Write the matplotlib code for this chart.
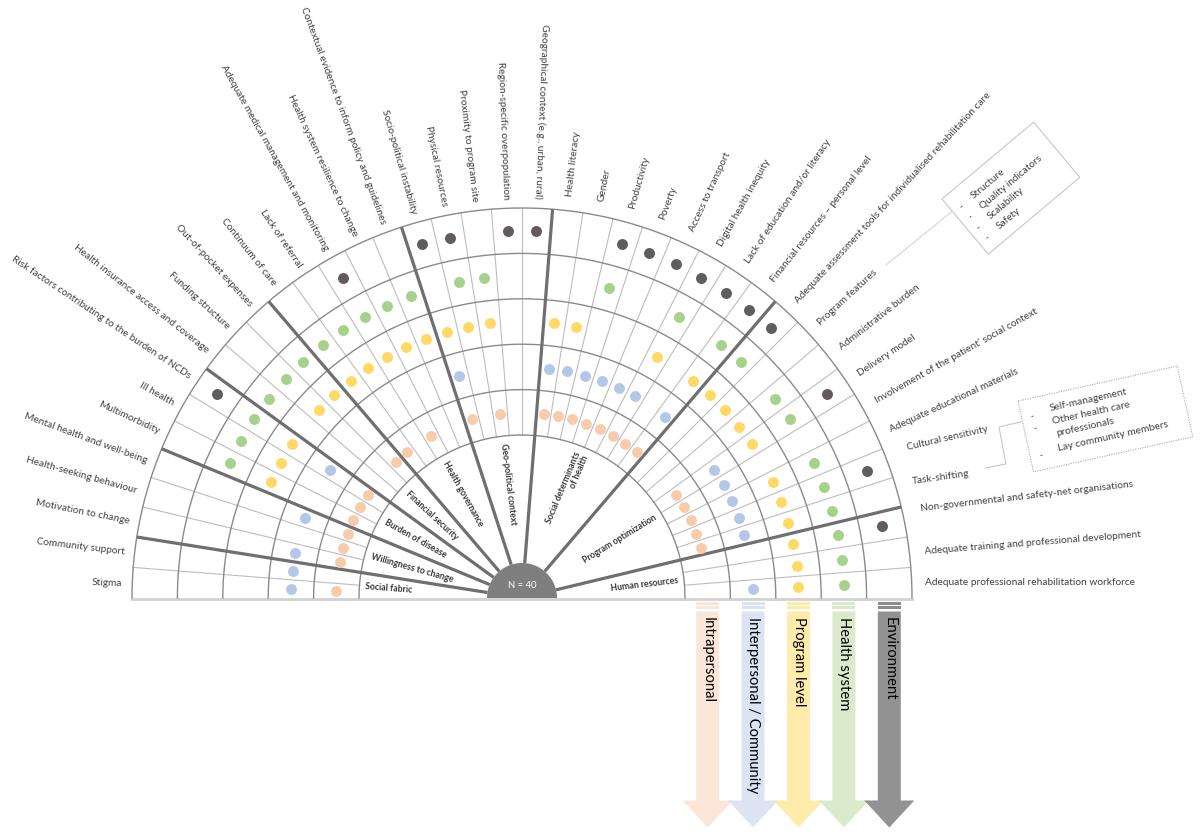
import numpy as np
import matplotlib
matplotlib.use("Agg")
import matplotlib.pyplot as plt
from matplotlib.patches import Polygon

# ---------------- data ----------------
factors = [
    "Stigma", "Community support",
    "Motivation to change", "Health-seeking behaviour", "Mental health and well-being",
    "Multimorbidity", "Ill health", "Risk factors contributing to the burden of NCDs",
    "Health insurance access and coverage", "Funding structure", "Out-of-pocket expenses",
    "Continuum of care", "Lack of referral", "Adequate medical management and monitoring",
    "Health system resilience to change", "Contextual evidence to inform policy and guidelines",
    "Socio-political instability", "Physical resources", "Proximity to program site",
    "Region-specific overpopulation", "Geographical context (e.g., urban, rural)",
    "Health literacy", "Gender", "Productivity", "Poverty", "Access to transport",
    "Digital health inequity", "Lack of education and/or literacy",
    "Financial resources \u2013 personal level",
    "Adequate assessment tools for individualised rehabilitation care", "Program features",
    "Administrative burden", "Delivery model", "Involvement of the patient\u2019 social context",
    "Adequate educational materials", "Cultural sensitivity", "Task-shifting",
    "Non-governmental and safety-net organisations",
    "Adequate training and professional development",
    "Adequate professional rehabilitation workforce",
]
categories = ["Social fabric", "Willingness to change", "Burden of disease",
              "Financial security", "Health governance", "Geo-political context",
              "Social determinants\nof health", "Program optimization", "Human resources"]
category_sizes = [2, 3, 3, 3, 5, 5, 8, 8, 3]
levels = ["Intrapersonal", "Interpersonal / Community", "Program level",
          "Health system", "Environment"]

# 1 = factor reported at that level (grouped by category)
intrapersonal = [1, 0,  1, 1, 1,  1, 1, 1,  0, 0, 1,  1, 0, 1, 0, 0,  1, 0, 1, 0, 0,
                 1, 1, 1, 1, 1, 1, 1, 1,  0, 0, 0, 1, 1, 1, 1, 1,  0, 0, 0]
interpersonal = [1, 1,  1, 0, 1,  0, 0, 1,  0, 0, 0,  0, 0, 0, 0, 0,  1, 0, 0, 0, 0,
                 1, 1, 1, 1, 1, 1, 0, 1,  0, 0, 0, 1, 1, 1, 1, 1,  0, 0, 1]
program_level = [0, 0,  0, 0, 0,  1, 1, 1,  0, 1, 1,  1, 1, 1, 1, 1,  1, 1, 1, 0, 0,
                 1, 1, 0, 0, 0, 1, 0, 1,  1, 1, 1, 1, 0, 1, 1, 1,  1, 1, 1]
health_system = [0, 0,  0, 0, 0,  1, 1, 1,  1, 1, 1,  1, 1, 1, 1, 1,  0, 1, 1, 0, 0,
                 0, 0, 1, 0, 0, 1, 0, 1,  1, 0, 1, 1, 0, 1, 1, 1,  1, 1, 1]
environment =   [0, 0,  0, 0, 0,  0, 0, 1,  0, 0, 0,  0, 0, 1, 0, 0,  1, 1, 0, 1, 1,
                 0, 0, 1, 1, 1, 1, 1, 1,  1, 0, 0, 1, 0, 0, 1, 0,  1, 0, 0]
n_studies = 40

assessment_items = ["Structure", "Quality indicators", "Scalability", "Safety"]
task_items = ["Self-management", "Other health care\nprofessionals", "Lay community members"]

# ---------------- style ----------------
dot_colors = ["#F8CBAD", "#B4C7E7", "#FFD966", "#A9D18E", "#625B5B"]
arrow_colors = ["#FBE5D6", "#DAE3F3", "#FFEBA8", "#D7EAC9", "#8C8C8C"]
TXT = "#404040"
FONT = ["Lato", "DejaVu Sans"]
plt.rcParams["font.family"] = FONT

W, H = 1200, 837
fig = plt.figure(figsize=(W / 100, H / 100), dpi=100)
ax = fig.add_axes([0, 0, 1, 1])
ax.set_xlim(0, W)
ax.set_ylim(H, 0)
ax.axis("off")

CX, CY = 522, 599
R_HUB, R_IN, R_OUT = 35, 163, 390
n = len(factors)
step = 180.0 / n
ring_edges = np.linspace(R_IN, R_OUT, len(levels) + 1)
ring_mid = (ring_edges[:-1] + ring_edges[1:]) / 2


def pol(r, deg):
    a = np.radians(deg)
    return CX + r * np.cos(a), CY - r * np.sin(a)


t = np.linspace(0, 180, 721)
# rings
for r in ring_edges:
    ax.plot(*pol(r, t), color="#8A8A8A", lw=1.0, zorder=2)

# radial lines
group_bounds = set(np.cumsum(category_sizes)[:-1].tolist())
for j in range(1, n):
    a = 180 - j * step
    if j in group_bounds:
        x, y = pol(np.array([R_HUB, R_OUT]), a)
        ax.plot(x, y, color="#6F6F6F", lw=2.3, zorder=3, solid_capstyle="butt")
    else:
        x, y = pol(np.array([R_IN, R_OUT]), a)
        ax.plot(x, y, color="#BDBDBD", lw=0.8, zorder=1)

# baseline
ax.plot([CX - R_OUT, CX + R_OUT], [CY + 1, CY + 1], color="#D2D2D2", lw=2.0, zorder=1)

# hub
hx, hy = pol(R_HUB, t)
ax.fill(hx, hy, color="#7F7F7F", zorder=4, lw=0)
ax.text(CX, CY - 13, f"N = {n_studies}", color="white", fontsize=6.8,
        ha="center", va="center", zorder=5)

# dots
members = [intrapersonal, interpersonal, program_level, health_system, environment]
for li, mem in enumerate(members):
    ks = np.nonzero(np.array(mem))[0]
    ang = 180 - step * (ks + 0.5)
    x, y = pol(ring_mid[li], ang)
    ax.scatter(x, y, s=62, color=dot_colors[li], linewidths=0, zorder=6)

# factor labels
label_tweaks = {  # index: (angle, radius, rotation)
    35: (21.5, 414, 13), 36: (16.8, 408, 8), 37: (12.8, 409, 6.5),
    38: (6.8, 405, 4.5), 39: (2.3, 403, 0),
}
for k, name in enumerate(factors):
    a = 180 - step * (k + 0.5)
    if a > 85.5:
        r, rot, ha = 400, a - 180, "right"
    else:
        r, rot, ha = 405, a, "left"
    if k in label_tweaks:
        a, r, rot = label_tweaks[k]
    x, y = pol(r, a)
    ax.text(x, y, name, rotation=rot, rotation_mode="anchor", ha=ha, va="center",
            fontsize=7.3, color=TXT, zorder=7)

# category labels
start = 0
for name, size in zip(categories, category_sizes):
    a = 180 - step * (start + size / 2)
    start += size
    x, y = pol(157, a)
    kw = dict(rotation_mode="anchor", va="center", fontsize=6.3, fontweight="bold",
              color="#383838", zorder=7, linespacing=1.0)
    if a > 90:
        ax.text(x, y, name, rotation=a - 180, ha="left", **kw)
    else:
        ax.text(x, y, name, rotation=a, ha="right", multialignment="right", **kw)

# legend arrows
for i, (lev, col) in enumerate(zip(levels, arrow_colors)):
    xc = CX + ring_mid[i]
    hw, HW = 11.5, 25
    y0, y1, y2 = 612.5, 801.5, 828.5
    ax.add_patch(Polygon([(xc - hw, y0), (xc + hw, y0), (xc + hw, y1), (xc + HW, y1),
                          (xc, y2), (xc - HW, y1), (xc - hw, y1)], closed=True,
                         facecolor=col, edgecolor="none", zorder=3, alpha=0.95))
    for (ya, yb) in [(603.0, 605.6), (607.2, 610.2)]:
        ax.add_patch(Polygon([(xc - hw, ya), (xc + hw, ya), (xc + hw, yb), (xc - hw, yb)],
                             closed=True, facecolor=col, edgecolor="none", zorder=3))
    ax.text(xc, 617, lev, rotation=-90, ha="center", va="top", fontsize=10.6,
            color="black", zorder=4)


# annotation boxes
def rbox(top_left, length, width, deg, **kw):
    u = np.array([np.cos(np.radians(deg)), -np.sin(np.radians(deg))])
    v = np.array([np.sin(np.radians(deg)), np.cos(np.radians(deg))])
    p = np.array(top_left, dtype=float)
    pts = [p, p + u * length, p + u * length + v * width, p + v * width]
    ax.add_patch(Polygon(pts, closed=True, facecolor="white", zorder=2, **kw))
    return p, u, v


p1, u1, v1 = rbox((942, 200), 119.5, 72, 40, edgecolor="#C8C8C8", lw=0.8)
for i, item in enumerate(assessment_items):
    dv = 17 + i * 13.3
    px, py = p1 + u1 * 25 + v1 * dv
    ax.text(px, py, item, rotation=40, rotation_mode="anchor", ha="left", va="center",
            fontsize=7.2, color=TXT, zorder=7)
    dx, dy = p1 + u1 * 9 + v1 * (dv + 1)
    ax.text(dx, dy, "-", rotation=40, rotation_mode="anchor", ha="left", va="center",
            fontsize=7.2, color=TXT, zorder=7)
c1 = p1 + v1 * 16
ax.plot([886, c1[0]], [266, c1[1]], color="#D6D6D6", lw=0.8, zorder=2)

p2, u2, v2 = rbox((1018, 402), 163, 72.5, 12.4, edgecolor="#A8A8A8", lw=0.8,
                  linestyle=(0, (1, 1.2)))
line_dv = iter([13.5, 26.5, 39.5, 54])
for item in task_items:
    for li, line in enumerate(item.split("\n")):
        dv = next(line_dv)
        px, py = p2 + u2 * (29 + 1.2 * li) + v2 * dv
        ax.text(px, py, line, rotation=12.4, rotation_mode="anchor", ha="left",
                va="center", fontsize=7.4, color=TXT, zorder=7)
        if li == 0:
            dx, dy = p2 + u2 * 9 + v2 * (dv + 3)
            ax.text(dx, dy, "-", rotation=12.4, rotation_mode="anchor", ha="left",
                    va="center", fontsize=7.4, color=TXT, zorder=7)
c2 = p2 + v2 * 21
ax.plot([985, 1006, 999, c2[0]], [469, 465, 428, c2[1]], color="#C8C8C8", lw=0.8,
        zorder=2)

fig.savefig("out.png", dpi=100, facecolor="white")
